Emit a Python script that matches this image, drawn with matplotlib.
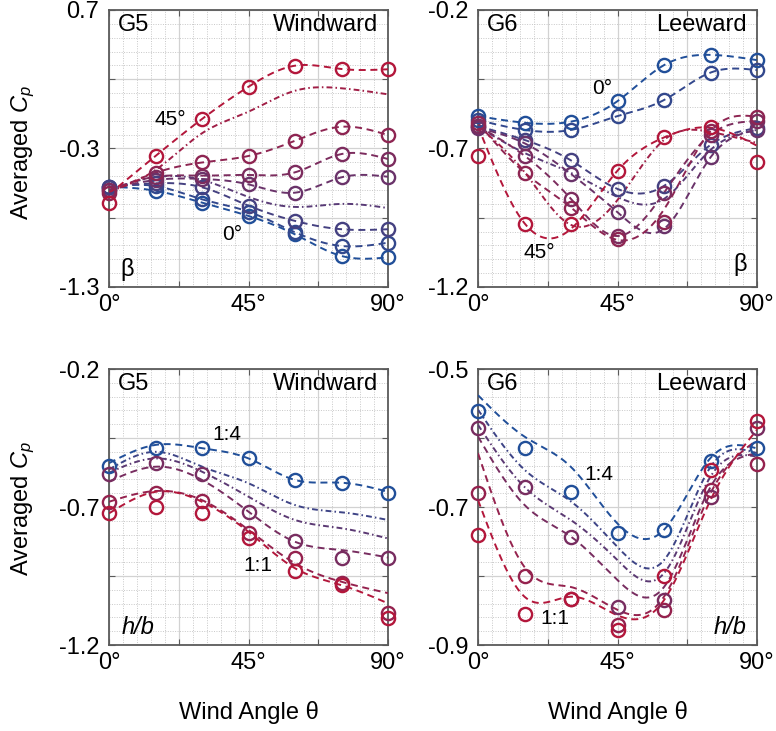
import numpy as np
import matplotlib
matplotlib.use("Agg")
import matplotlib.pyplot as plt
from matplotlib.ticker import FixedLocator, FixedFormatter

plt.rcParams['font.family'] = ['Liberation Sans', 'DejaVu Sans']
plt.rcParams['mathtext.fontset'] = 'custom'
plt.rcParams['mathtext.rm'] = 'Liberation Sans'
plt.rcParams['mathtext.it'] = 'Liberation Sans:italic'

# wind angles (deg) at which Cp was measured
ANGLES = [0, 15, 30, 45, 60, 75, 90]

# ---------------- G5 windward, roof pitch beta (0 deg .. 45 deg) ----------------
G5B_MARK_0 = [-0.576, -0.605, -0.691, -0.787, -0.920, -1.076, -1.086]
G5B_MARK_1 = [-0.578, -0.571, -0.667, -0.756, -0.905, -1.004, -0.980]
G5B_MARK_2 = [-0.576, -0.551, -0.580, -0.713, -0.823, -0.883, -0.883]
G5B_MARK_3 = [-0.600, -0.527, -0.520, -0.559, -0.619, -0.508, -0.504]
G5B_MARK_4 = [-0.600, -0.504, -0.496, -0.491, -0.472, -0.340, -0.376]
G5B_MARK_5 = [-0.619, -0.475, -0.401, -0.354, -0.244, -0.143, -0.203]
G5B_MARK_6 = [-0.697, -0.354, -0.087, 0.146, 0.298, 0.274, 0.272]
G5B_FIT_6 = [-0.630, -0.354, -0.087, 0.146, 0.298, 0.274, 0.272]
G5B_AVG_A = [-0.600, -0.506, -0.527, -0.650, -0.722, -0.700, -0.730]
G5B_AVG_B = [-0.612, -0.455, -0.190, -0.034, 0.117, 0.135, 0.091]

# ---------------- G6 leeward, roof pitch beta ----------------
G6B_MARK_0 = [-0.583, -0.607, -0.603, -0.529, -0.399, -0.362, -0.381]
G6B_MARK_1 = [-0.597, -0.633, -0.633, -0.583, -0.525, -0.426, -0.417]
G6B_MARK_2 = [-0.619, -0.669, -0.743, -0.846, -0.835, -0.687, -0.626]
G6B_MARK_3 = [-0.626, -0.681, -0.792, -0.928, -0.980, -0.732, -0.633]
G6B_MARK_4 = [-0.619, -0.726, -0.882, -1.016, -0.860, -0.650, -0.601]
G6B_MARK_5 = [-0.608, -0.787, -0.913, -1.026, -0.965, -0.637, -0.585]
G6B_MARK_6 = [-0.726, -0.973, -0.973, -0.780, -0.660, -0.621, -0.747]
G6B_FIT_3 = [-0.626, -0.681, -0.792, -0.930, -0.990, -0.732, -0.633]
G6B_FIT_5 = [-0.608, -0.787, -0.913, -1.030, -0.920, -0.637, -0.585]
G6B_FIT_6 = [-0.620, -0.970, -0.990, -0.780, -0.660, -0.625, -0.690]
G6B_AVG_A = [-0.621, -0.716, -0.788, -0.875, -0.882, -0.705, -0.633]
G6B_AVG_B = [-0.619, -0.785, -0.976, -0.886, -0.669, -0.640, -0.680]

# ---------------- G5 windward, aspect ratio h/b (1:4 .. 1:1) ----------------
G5H_MARK_0 = [-0.551, -0.487, -0.487, -0.524, -0.602, -0.614, -0.650]
G5H_MARK_3 = [-0.580, -0.539, -0.582, -0.717, -0.822, -0.886, -0.884]
G5H_MARK_4 = [-0.681, -0.648, -0.678, -0.795, -0.883, -0.974, -1.085]
G5H_MARK_5 = [-0.721, -0.699, -0.721, -0.813, -0.931, -0.983, -1.101]
G5H_FIT_0 = [-0.541, -0.475, -0.487, -0.524, -0.602, -0.612, -0.645]
G5H_FIT_1 = [-0.564, -0.500, -0.554, -0.614, -0.693, -0.719, -0.747]
G5H_FIT_2 = [-0.576, -0.524, -0.572, -0.663, -0.747, -0.777, -0.814]
G5H_FIT_3 = [-0.608, -0.554, -0.602, -0.717, -0.826, -0.856, -0.883]
G5H_FIT_4 = [-0.681, -0.642, -0.675, -0.783, -0.904, -0.971, -1.012]
G5H_FIT_5 = [-0.723, -0.645, -0.681, -0.790, -0.922, -0.983, -1.049]

# ---------------- G6 leeward, aspect ratio h/b ----------------
G6H_MARK_0 = [-0.561, -0.615, -0.678, -0.738, -0.733, -0.634, -0.615]
G6H_MARK_3 = [-0.585, -0.671, -0.743, -0.845, -0.835, -0.685, -0.586]
G6H_MARK_4 = [-0.679, -0.800, -0.834, -0.871, -0.849, -0.676, -0.637]
G6H_MARK_5 = [-0.740, -0.855, -0.834, -0.878, -0.800, -0.646, -0.575]
G6H_FIT_0 = [-0.538, -0.598, -0.642, -0.724, -0.733, -0.629, -0.615]
G6H_FIT_1 = [-0.559, -0.646, -0.692, -0.758, -0.777, -0.642, -0.622]
G6H_FIT_2 = [-0.581, -0.671, -0.719, -0.777, -0.796, -0.656, -0.627]
G6H_FIT_3 = [-0.598, -0.697, -0.743, -0.806, -0.816, -0.671, -0.622]
G6H_FIT_4 = [-0.622, -0.787, -0.816, -0.849, -0.830, -0.680, -0.603]
G6H_FIT_5 = [-0.690, -0.830, -0.830, -0.857, -0.835, -0.690, -0.588]

Y_LIMITS = {"G5B": (-1.3, 0.7), "G6B": (-1.2, -0.2), "G5H": (-1.2, -0.2), "G6H": (-0.9, -0.5)}

BLUE = np.array([0.13, 0.31, 0.60])
RED = np.array([0.70, 0.09, 0.23])
DASH = (0, (3.6, 2.4))
DASHDOT = (0, (3.0, 1.6, 0.8, 1.6))


def shade(t):
    return tuple(BLUE + (RED - BLUE) * t)


def natural_spline(x, y, xs):
    x = np.asarray(x, float)
    y = np.asarray(y, float)
    n = len(x)
    h = np.diff(x)
    A = np.zeros((n, n))
    r = np.zeros(n)
    A[0, 0] = A[-1, -1] = 1.0
    for i in range(1, n - 1):
        A[i, i - 1] = h[i - 1]
        A[i, i] = 2 * (h[i - 1] + h[i])
        A[i, i + 1] = h[i]
        r[i] = 6 * ((y[i + 1] - y[i]) / h[i] - (y[i] - y[i - 1]) / h[i - 1])
    M = np.linalg.solve(A, r)
    k = np.clip(np.searchsorted(x, xs) - 1, 0, n - 2)
    x0, x1 = x[k], x[k + 1]
    hk = h[k]
    a = (x1 - xs) / hk
    b = (xs - x0) / hk
    return (a * y[k] + b * y[k + 1]
            + ((a ** 3 - a) * M[k] + (b ** 3 - b) * M[k + 1]) * hk ** 2 / 6)


def style_axes(ax, ylim):
    ylo, yhi = ylim
    ax.set_xlim(0, 90)
    ax.set_ylim(ylo, yhi)
    xmaj = np.linspace(0, 90, 5)
    ymaj = np.linspace(ylo, yhi, 5)
    ax.xaxis.set_major_locator(FixedLocator(xmaj))
    ax.xaxis.set_major_formatter(FixedFormatter(["0°", "", "45°", "", "90°"]))
    ax.xaxis.set_minor_locator(FixedLocator(np.linspace(0, 90, 21)))
    ax.yaxis.set_major_locator(FixedLocator(ymaj))
    ylab = ["%.1f" % v if i % 2 == 0 else "" for i, v in enumerate(ymaj)]
    ax.yaxis.set_major_formatter(FixedFormatter(ylab))
    ax.yaxis.set_minor_locator(FixedLocator(np.linspace(ylo, yhi, 21)))
    ax.set_axisbelow(True)
    ax.grid(which="minor", color="#c8c8c8", lw=0.7, ls=(0, (1, 1.5)))
    ax.grid(which="major", color="#d2d2d2", lw=0.9, ls="-")
    for sp in ax.spines.values():
        sp.set_color("#5a5a5a")
        sp.set_linewidth(1.3)
    ax.tick_params(which="major", direction="in", length=4, color="#5a5a5a",
                   labelsize=17, top=True, right=True)
    ax.tick_params(axis="y", which="major", pad=7)
    ax.tick_params(axis="x", which="major", pad=5)
    ax.tick_params(which="minor", length=0)


def draw_panel(ax, ylim, fits, marks):
    style_axes(ax, ylim)
    xs = np.linspace(0, 90, 361)
    for vals, t, ls in fits:
        ax.plot(xs, natural_spline(ANGLES, vals, xs), color=shade(t), ls=ls,
                lw=1.4, zorder=3)
    for vals, t in marks:
        ax.plot(ANGLES, vals, "o", mfc="none", mec=shade(t), ms=9.5, mew=1.7,
                clip_on=False, zorder=4)


fig = plt.figure(figsize=(7.76, 7.31), dpi=100)
W, H = 776.0, 731.0
ax_tl = fig.add_axes([109 / W, 1 - 287 / H, 279 / W, 277 / H])
ax_tr = fig.add_axes([478 / W, 1 - 287 / H, 279 / W, 277 / H])
ax_bl = fig.add_axes([109 / W, 1 - 645 / H, 279 / W, 276 / H])
ax_br = fig.add_axes([478 / W, 1 - 645 / H, 279 / W, 276 / H])

n = 8.0
draw_panel(ax_tl, Y_LIMITS["G5B"],
           [(G5B_MARK_0, 0 / n, DASH), (G5B_MARK_1, 1 / n, DASH), (G5B_MARK_2, 2 / n, DASH),
            (G5B_AVG_A, 3 / n, DASHDOT), (G5B_MARK_3, 4 / n, DASH), (G5B_MARK_4, 5 / n, DASH),
            (G5B_MARK_5, 6 / n, DASH), (G5B_AVG_B, 7 / n, DASHDOT), (G5B_FIT_6, 8 / n, DASH)],
           [(G5B_MARK_0, 0 / n), (G5B_MARK_1, 1 / n), (G5B_MARK_2, 2 / n), (G5B_MARK_3, 4 / n),
            (G5B_MARK_4, 5 / n), (G5B_MARK_5, 6 / n), (G5B_MARK_6, 8 / n)])

draw_panel(ax_tr, Y_LIMITS["G6B"],
           [(G6B_MARK_0, 0 / n, DASH), (G6B_MARK_1, 1 / n, DASH), (G6B_MARK_2, 2 / n, DASH),
            (G6B_AVG_A, 3 / n, DASHDOT), (G6B_FIT_3, 4 / n, DASH), (G6B_MARK_4, 5 / n, DASH),
            (G6B_FIT_5, 6 / n, DASH), (G6B_AVG_B, 7 / n, DASHDOT), (G6B_FIT_6, 8 / n, DASH)],
           [(G6B_MARK_0, 0 / n), (G6B_MARK_1, 1 / n), (G6B_MARK_2, 2 / n), (G6B_MARK_3, 4 / n),
            (G6B_MARK_4, 5 / n), (G6B_MARK_5, 6 / n), (G6B_MARK_6, 8 / n)])

m = 5.0
draw_panel(ax_bl, Y_LIMITS["G5H"],
           [(G5H_FIT_0, 0 / m, DASH), (G5H_FIT_1, 1 / m, DASHDOT), (G5H_FIT_2, 2 / m, DASHDOT),
            (G5H_FIT_3, 3 / m, DASH), (G5H_FIT_4, 4 / m, DASH), (G5H_FIT_5, 5 / m, DASH)],
           [(G5H_MARK_0, 0 / m), (G5H_MARK_3, 3 / m), (G5H_MARK_4, 4 / m), (G5H_MARK_5, 5 / m)])

draw_panel(ax_br, Y_LIMITS["G6H"],
           [(G6H_FIT_0, 0 / m, DASH), (G6H_FIT_1, 1 / m, DASHDOT), (G6H_FIT_2, 2 / m, DASHDOT),
            (G6H_FIT_3, 3 / m, DASH), (G6H_FIT_4, 4 / m, DASH), (G6H_FIT_5, 5 / m, DASH)],
           [(G6H_MARK_0, 0 / m), (G6H_MARK_3, 3 / m), (G6H_MARK_4, 4 / m), (G6H_MARK_5, 5 / m)])

FS = 17
for ax, name, side in [(ax_tl, "G5", "Windward"), (ax_tr, "G6", "Leeward"),
                       (ax_bl, "G5", "Windward"), (ax_br, "G6", "Leeward")]:
    ax.text(0.032, 0.945, name, transform=ax.transAxes, fontsize=FS, ha="left", va="center", zorder=6)
    ax.text(0.964, 0.945, side, transform=ax.transAxes, fontsize=FS, ha="right", va="center", zorder=6)

ax_tl.text(0.04, 0.062, "β", transform=ax_tl.transAxes, fontsize=FS, ha="left", va="center")
ax_tr.text(0.964, 0.08, "β", transform=ax_tr.transAxes, fontsize=FS, ha="right", va="center")
ax_bl.text(0.045, 0.065, "h/b", transform=ax_bl.transAxes, fontsize=FS, style="italic", ha="left", va="center")
ax_br.text(0.964, 0.065, "h/b", transform=ax_br.transAxes, fontsize=FS, style="italic", ha="right", va="center")

AFS = 15
ax_tl.text(0.219, 0.606, "45°", transform=ax_tl.transAxes, fontsize=AFS, ha="center", va="center")
ax_tl.text(0.441, 0.191, "0°", transform=ax_tl.transAxes, fontsize=AFS, ha="center", va="center")
ax_tr.text(0.444, 0.715, "0°", transform=ax_tr.transAxes, fontsize=AFS, ha="center", va="center")
ax_tr.text(0.219, 0.123, "45°", transform=ax_tr.transAxes, fontsize=AFS, ha="center", va="center")
ax_bl.text(0.423, 0.762, "1:4", transform=ax_bl.transAxes, fontsize=AFS, ha="center", va="center")
ax_bl.text(0.534, 0.289, "1:1", transform=ax_bl.transAxes, fontsize=AFS, ha="center", va="center")
ax_br.text(0.434, 0.617, "1:4", transform=ax_br.transAxes, fontsize=AFS, ha="center", va="center")
ax_br.text(0.276, 0.097, "1:1", transform=ax_br.transAxes, fontsize=AFS, ha="center", va="center")

fig.text(23 / W, 1 - 152 / H, "Averaged $C_p$", rotation=90, fontsize=FS, ha="center", va="center")
fig.text(23 / W, 1 - 508 / H, "Averaged $C_p$", rotation=90, fontsize=FS, ha="center", va="center")
fig.text(248.5 / W, 1 - 712 / H, "Wind Angle θ", fontsize=FS, ha="center", va="center")
fig.text(617.5 / W, 1 - 712 / H, "Wind Angle θ", fontsize=FS, ha="center", va="center")

fig.savefig("out.png", dpi=100)
